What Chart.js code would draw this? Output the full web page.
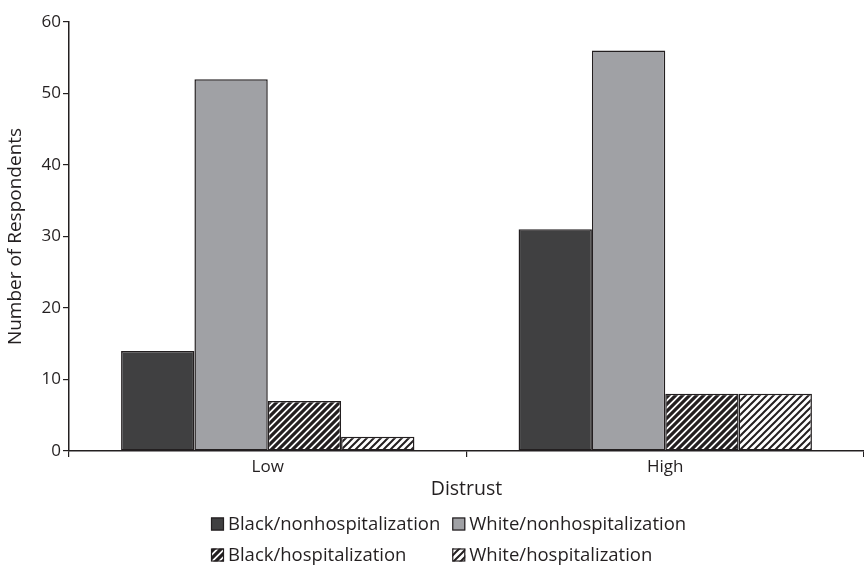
<!DOCTYPE html>
<html>
<head>
<meta charset="utf-8">
<script src="https://cdn.jsdelivr.net/npm/chart.js@4"></script>
<style>
  body { margin: 0; background: #fff; }
  #wrap { width: 864px; height: 567px; }
</style>
</head>
<body>
<div id="wrap"><canvas id="chart"></canvas></div>
<script>
const categories = ["Low", "High"];
const seriesLabels = [
  "Black/nonhospitalization",
  "White/nonhospitalization",
  "Black/hospitalization",
  "White/hospitalization"
];
const blackNonhosp = [14, 31];
const whiteNonhosp = [52, 56];
const blackHosp = [7, 8];
const whiteHosp = [2, 8];
const yTicks = [0, 10, 20, 30, 40, 50, 60];

const ink = "#231f20";
const font = "'Open Sans', 'Noto Sans', sans-serif";

// diagonal hatch fill, "/" direction
function hatch(bg, fg, lineW) {
  const s = 7;
  const tile = document.createElement("canvas");
  tile.width = s; tile.height = s;
  const c = tile.getContext("2d");
  c.fillStyle = bg;
  c.fillRect(0, 0, s, s);
  c.strokeStyle = fg;
  c.lineWidth = lineW;
  c.beginPath();
  c.moveTo(0, s); c.lineTo(s, 0);
  c.moveTo(-s, s); c.lineTo(s, -s);
  c.moveTo(0, 2 * s); c.lineTo(2 * s, 0);
  c.stroke();
  return c.createPattern(tile, "repeat");
}

const fills = [
  "#404041",
  "#a0a1a5",
  hatch("#ffffff", ink, 3.2),
  hatch("#ffffff", ink, 2.0)
];

// two-column legend under the axis title
const gridLegend = {
  id: "gridLegend",
  afterDraw(chart) {
    const ctx = chart.ctx;
    const box = 13, gap = 4, colGap = 12;
    const rows = [524, 555];
    ctx.save();
    ctx.font = "18.5px " + font;
    ctx.textBaseline = "middle";
    const w1 = Math.max(ctx.measureText(seriesLabels[0]).width, ctx.measureText(seriesLabels[2]).width);
    const x1 = 211;
    const x2 = x1 + box + gap + w1 + colGap;
    chart.data.datasets.forEach((ds, i) => {
      const x = i % 2 === 0 ? x1 : x2;
      const y = rows[Math.floor(i / 2)];
      ctx.fillStyle = ds.backgroundColor;
      ctx.fillRect(x, y - box / 2, box, box);
      ctx.strokeStyle = ink;
      ctx.lineWidth = 1.2;
      ctx.strokeRect(x + 0.5, y - box / 2 + 0.5, box - 1, box - 1);
      ctx.fillStyle = ink;
      ctx.fillText(ds.label, x + box + gap, y + 1);
    });
    ctx.restore();
  }
};

const datasets = [blackNonhosp, whiteNonhosp, blackHosp, whiteHosp].map((vals, i) => ({
  label: seriesLabels[i],
  data: vals,
  backgroundColor: fills[i],
  borderColor: ink,
  borderWidth: 1.5,
  borderSkipped: false,
  categoryPercentage: 0.738,
  barPercentage: 1
}));

new Chart(document.getElementById("chart"), {
  type: "bar",
  data: { labels: categories, datasets: datasets },
  plugins: [gridLegend],
  options: {
    responsive: true,
    maintainAspectRatio: false,
    animation: false,
    layout: { padding: { top: 22, right: 0, left: 0, bottom: 62 } },
    plugins: {
      legend: { display: false },
      tooltip: { enabled: false }
    },
    scales: {
      x: {
        border: { color: ink, width: 1.5 },
        grid: { drawOnChartArea: false, color: ink, tickLength: 6, lineWidth: 1.2 },
        ticks: { color: ink, font: { family: font, size: 17 }, padding: 0 },
        title: { display: true, text: "Distrust", color: ink, font: { family: font, size: 19.5 }, padding: { top: 0 } },
        afterFit(scale) { scale.height = 54; }
      },
      y: {
        min: 0,
        max: 60,
        afterBuildTicks(scale) { scale.ticks = yTicks.map(v => ({ value: v })); },
        border: { color: ink, width: 1.5 },
        grid: { drawOnChartArea: false, color: ink, tickLength: 6, lineWidth: 1.2 },
        ticks: { color: ink, font: { family: font, size: 17 }, padding: 2 },
        title: { display: true, text: "Number of Respondents", color: ink, font: { family: font, size: 19 }, padding: { bottom: 2 } },
        afterFit(scale) { scale.width = 69; }
      }
    }
  }
});
</script>
</body>
</html>
